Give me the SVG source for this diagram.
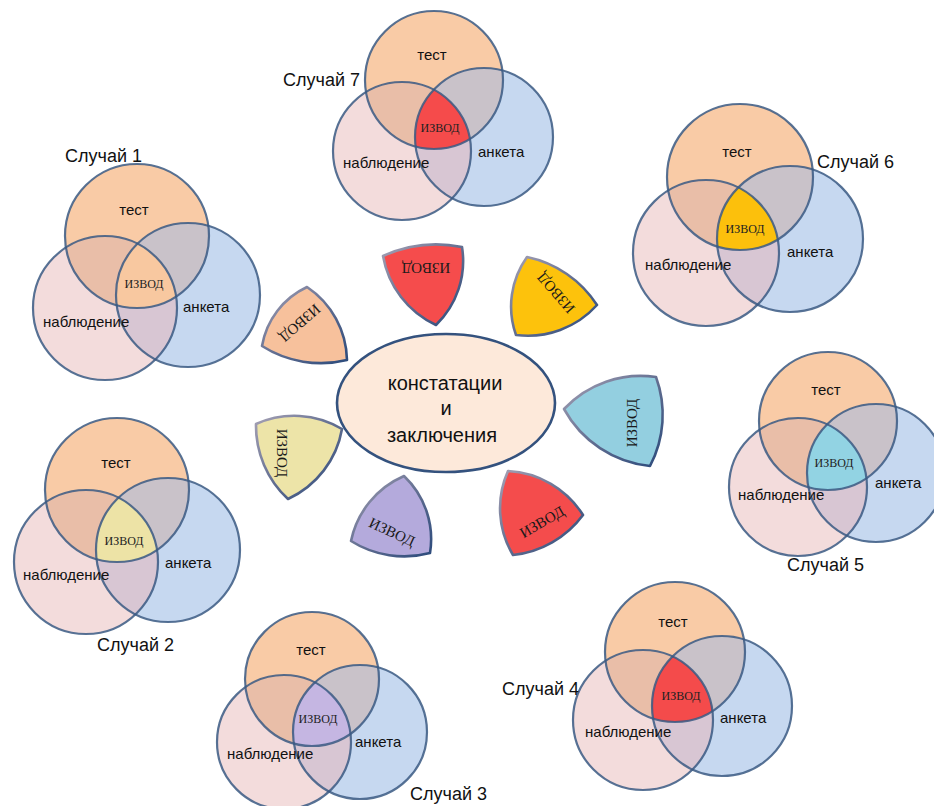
<svg xmlns="http://www.w3.org/2000/svg" width="934" height="806" viewBox="0 0 934 806">
  <style>
    .t { fill: #f9cba6; }
    .o { fill: #f3dcdc; }
    .a { fill: #c6d8f0; }
    .to { fill: #e9bea8; }
    .ta { fill: #c9c2c9; }
    .oa { fill: #d8c6d3; }
    .ln { fill: none; stroke: #3a5983; stroke-width: 2.2; stroke-opacity: 0.85; }
    .lbl { font-family: "Liberation Sans", Arial, sans-serif; font-size: 15px; fill: #111; }
    .mid { text-anchor: middle; }
    .case { font-family: "Liberation Sans", Arial, sans-serif; font-size: 18px; fill: #111; }
    .iz { font-family: "Liberation Serif", "Times New Roman", serif; font-size: 12px; fill: #222; text-anchor: middle; }
    .pz { font-family: "Liberation Serif", "Times New Roman", serif; font-size: 15px; fill: #1a1a1a; text-anchor: middle; }
    .petal { stroke: url(#rim); stroke-width: 2.6; stroke-linejoin: round; }
    .core { font-family: "Liberation Sans", Arial, sans-serif; font-size: 20px; fill: #111; text-anchor: middle; }
  </style>
  <defs>
    <linearGradient id="rim" x1="0" y1="0" x2="1" y2="1">
      <stop offset="0" stop-color="#a4a0b4"/>
      <stop offset="0.55" stop-color="#5c6a8e"/>
      <stop offset="1" stop-color="#2c4b7c"/>
    </linearGradient>
    <clipPath id="c1t"><circle cx="137" cy="236" r="72"/></clipPath>
    <clipPath id="c1o"><circle cx="105" cy="308" r="72"/></clipPath>
    <clipPath id="c2t"><circle cx="117" cy="490" r="72"/></clipPath>
    <clipPath id="c2o"><circle cx="86" cy="562" r="72"/></clipPath>
    <clipPath id="c3t"><circle cx="312" cy="679" r="67"/></clipPath>
    <clipPath id="c3o"><circle cx="284" cy="742" r="67"/></clipPath>
    <clipPath id="c4t"><circle cx="675" cy="652" r="70"/></clipPath>
    <clipPath id="c4o"><circle cx="643" cy="720" r="70"/></clipPath>
    <clipPath id="c5t"><circle cx="828" cy="421" r="69"/></clipPath>
    <clipPath id="c5o"><circle cx="798" cy="487" r="69"/></clipPath>
    <clipPath id="c6t"><circle cx="740" cy="177" r="73"/></clipPath>
    <clipPath id="c6o"><circle cx="706" cy="253" r="73"/></clipPath>
    <clipPath id="c7t"><circle cx="434" cy="80" r="69"/></clipPath>
    <clipPath id="c7o"><circle cx="402" cy="151" r="69"/></clipPath>
  </defs>

  <rect width="934" height="806" fill="#ffffff"/>

  <!-- Case 1 -->
  <g id="case1">
    <circle class="t" cx="137" cy="236" r="72"/>
    <circle class="o" cx="105" cy="308" r="72"/>
    <circle class="a" cx="188" cy="295" r="72"/>
    <circle class="to" cx="105" cy="308" r="72" clip-path="url(#c1t)"/>
    <circle class="ta" cx="188" cy="295" r="72" clip-path="url(#c1t)"/>
    <circle class="oa" cx="188" cy="295" r="72" clip-path="url(#c1o)"/>
    <g clip-path="url(#c1t)"><circle cx="188" cy="295" r="72" fill="#f8c8a0" clip-path="url(#c1o)"/></g>
    <circle class="ln" cx="137" cy="236" r="72"/>
    <circle class="ln" cx="105" cy="308" r="72"/>
    <circle class="ln" cx="188" cy="295" r="72"/>
    <text class="lbl mid" x="134" y="215">тест</text>
    <text class="iz" x="144" y="288">ИЗВОД</text>
    <text class="lbl" x="43" y="327">наблюдение</text>
    <text class="lbl" x="183" y="312">анкета</text>
    <text class="case" x="65" y="162">Случай 1</text>
  </g>

  <!-- Case 2 -->
  <g id="case2">
    <circle class="t" cx="117" cy="490" r="72"/>
    <circle class="o" cx="86" cy="562" r="72"/>
    <circle class="a" cx="168" cy="550" r="72"/>
    <circle class="to" cx="86" cy="562" r="72" clip-path="url(#c2t)"/>
    <circle class="ta" cx="168" cy="550" r="72" clip-path="url(#c2t)"/>
    <circle class="oa" cx="168" cy="550" r="72" clip-path="url(#c2o)"/>
    <g clip-path="url(#c2t)"><circle cx="168" cy="550" r="72" fill="#ede3a6" clip-path="url(#c2o)"/></g>
    <circle class="ln" cx="117" cy="490" r="72"/>
    <circle class="ln" cx="86" cy="562" r="72"/>
    <circle class="ln" cx="168" cy="550" r="72"/>
    <text class="lbl mid" x="116" y="468">тест</text>
    <text class="iz" x="124" y="545">ИЗВОД</text>
    <text class="lbl" x="23" y="580">наблюдение</text>
    <text class="lbl" x="165" y="568">анкета</text>
    <text class="case" x="97" y="651">Случай 2</text>
  </g>

  <!-- Case 3 -->
  <g id="case3">
    <circle class="t" cx="312" cy="679" r="67"/>
    <circle class="o" cx="284" cy="742" r="67"/>
    <circle class="a" cx="360" cy="732" r="67"/>
    <circle class="to" cx="284" cy="742" r="67" clip-path="url(#c3t)"/>
    <circle class="ta" cx="360" cy="732" r="67" clip-path="url(#c3t)"/>
    <circle class="oa" cx="360" cy="732" r="67" clip-path="url(#c3o)"/>
    <g clip-path="url(#c3t)"><circle cx="360" cy="732" r="67" fill="#c5b6e2" clip-path="url(#c3o)"/></g>
    <circle class="ln" cx="312" cy="679" r="67"/>
    <circle class="ln" cx="284" cy="742" r="67"/>
    <circle class="ln" cx="360" cy="732" r="67"/>
    <text class="lbl mid" x="311" y="655" font-size="14.5">тест</text>
    <text class="iz" x="318" y="723">ИЗВОД</text>
    <text class="lbl" x="227" y="759" font-size="14.5">наблюдение</text>
    <text class="lbl" x="355" y="747" font-size="14.5">анкета</text>
    <text class="case" x="410" y="800">Случай 3</text>
  </g>

  <!-- Case 4 -->
  <g id="case4">
    <circle class="t" cx="675" cy="652" r="70"/>
    <circle class="o" cx="643" cy="720" r="70"/>
    <circle class="a" cx="722" cy="706" r="70"/>
    <circle class="to" cx="643" cy="720" r="70" clip-path="url(#c4t)"/>
    <circle class="ta" cx="722" cy="706" r="70" clip-path="url(#c4t)"/>
    <circle class="oa" cx="722" cy="706" r="70" clip-path="url(#c4o)"/>
    <g clip-path="url(#c4t)"><circle cx="722" cy="706" r="70" fill="#f44b4b" clip-path="url(#c4o)"/></g>
    <circle class="ln" cx="675" cy="652" r="70"/>
    <circle class="ln" cx="643" cy="720" r="70"/>
    <circle class="ln" cx="722" cy="706" r="70"/>
    <text class="lbl mid" x="673" y="627">тест</text>
    <text class="iz" x="681" y="700">ИЗВОД</text>
    <text class="lbl" x="585" y="737">наблюдение</text>
    <text class="lbl" x="720" y="723">анкета</text>
    <text class="case" x="502" y="695">Случай 4</text>
  </g>

  <!-- Case 5 -->
  <g id="case5">
    <circle class="t" cx="828" cy="421" r="69"/>
    <circle class="o" cx="798" cy="487" r="69"/>
    <circle class="a" cx="876" cy="473" r="69"/>
    <circle class="to" cx="798" cy="487" r="69" clip-path="url(#c5t)"/>
    <circle class="ta" cx="876" cy="473" r="69" clip-path="url(#c5t)"/>
    <circle class="oa" cx="876" cy="473" r="69" clip-path="url(#c5o)"/>
    <g clip-path="url(#c5t)"><circle cx="876" cy="473" r="69" fill="#92d3e3" clip-path="url(#c5o)"/></g>
    <circle class="ln" cx="828" cy="421" r="69"/>
    <circle class="ln" cx="798" cy="487" r="69"/>
    <circle class="ln" cx="876" cy="473" r="69"/>
    <text class="lbl mid" x="826" y="395">тест</text>
    <text class="iz" x="834" y="467">ИЗВОД</text>
    <text class="lbl" x="738" y="500">наблюдение</text>
    <text class="lbl" x="875" y="488">анкета</text>
    <text class="case" x="787" y="571">Случай 5</text>
  </g>

  <!-- Case 6 -->
  <g id="case6">
    <circle class="t" cx="740" cy="177" r="73"/>
    <circle class="o" cx="706" cy="253" r="73"/>
    <circle class="a" cx="790" cy="239" r="73"/>
    <circle class="to" cx="706" cy="253" r="73" clip-path="url(#c6t)"/>
    <circle class="ta" cx="790" cy="239" r="73" clip-path="url(#c6t)"/>
    <circle class="oa" cx="790" cy="239" r="73" clip-path="url(#c6o)"/>
    <g clip-path="url(#c6t)"><circle cx="790" cy="239" r="73" fill="#fcc00c" clip-path="url(#c6o)"/></g>
    <circle class="ln" cx="740" cy="177" r="73"/>
    <circle class="ln" cx="706" cy="253" r="73"/>
    <circle class="ln" cx="790" cy="239" r="73"/>
    <text class="lbl mid" x="737" y="157">тест</text>
    <text class="iz" x="745" y="233">ИЗВОД</text>
    <text class="lbl" x="645" y="270">наблюдение</text>
    <text class="lbl" x="787" y="257">анкета</text>
    <text class="case" x="817" y="168">Случай 6</text>
  </g>

  <!-- Case 7 -->
  <g id="case7">
    <circle class="t" cx="434" cy="80" r="69"/>
    <circle class="o" cx="402" cy="151" r="69"/>
    <circle class="a" cx="484" cy="137" r="69"/>
    <circle class="to" cx="402" cy="151" r="69" clip-path="url(#c7t)"/>
    <circle class="ta" cx="484" cy="137" r="69" clip-path="url(#c7t)"/>
    <circle class="oa" cx="484" cy="137" r="69" clip-path="url(#c7o)"/>
    <g clip-path="url(#c7t)"><circle cx="484" cy="137" r="69" fill="#f54b4b" clip-path="url(#c7o)"/></g>
    <circle class="ln" cx="434" cy="80" r="69"/>
    <circle class="ln" cx="402" cy="151" r="69"/>
    <circle class="ln" cx="484" cy="137" r="69"/>
    <text class="lbl mid" x="432" y="60">тест</text>
    <text class="iz" x="440" y="132">ИЗВОД</text>
    <text class="lbl" x="343" y="168">наблюдение</text>
    <text class="lbl" x="478" y="157">анкета</text>
    <text class="case" x="283" y="86">Случай 7</text>
  </g>

  <!-- central statement -->
  <g id="core">
    <ellipse cx="446" cy="403" rx="109" ry="69" fill="#fde9da" stroke="#34527e" stroke-width="2.6"/>
    <text class="core" x="445" y="390">констатации</text>
    <text class="core" x="446" y="415">и</text>
    <text class="core" x="442" y="442">заключения</text>
  </g>

  <!-- petals around the centre, one per case -->
  <g id="petal1">
    <path class="petal" fill="#f7c19c" d="M307,287 A90,90 0 0 1 347,360 A110,110 0 0 1 262,346 A80,80 0 0 1 307,287 Z"/>
    <text class="pz" transform="translate(300,323) rotate(139)" y="5">ИЗВОД</text>
  </g>
  <g id="petal7">
    <path class="petal" fill="#f54c4c" d="M383,256 A130,130 0 0 1 462,247 A89,89 0 0 1 436,325 A94,94 0 0 1 383,256 Z"/>
    <text class="pz" transform="translate(426,268) rotate(180)" y="5">ИЗВОД</text>
  </g>
  <g id="petal6">
    <path class="petal" fill="#fdc20c" d="M527,257 A110,110 0 0 1 597,305 A93,93 0 0 1 516,335 A85,85 0 0 1 527,257 Z"/>
    <text class="pz" transform="translate(556,293) rotate(229)" y="5">ИЗВОД</text>
  </g>
  <g id="petal5">
    <path class="petal" fill="#93cfe0" d="M564,409 A105,105 0 0 1 656,377 A110,110 0 0 1 650,466 A111,111 0 0 1 564,409 Z"/>
    <text class="pz" transform="translate(632,423) rotate(-90)" y="5">ИЗВОД</text>
  </g>
  <g id="petal4">
    <path class="petal" fill="#f44c4c" d="M508,471 A94,94 0 0 1 583,515 A100,100 0 0 1 513,555 A91,91 0 0 1 508,471 Z"/>
    <text class="pz" transform="translate(542,522) rotate(-30)" y="5">ИЗВОД</text>
  </g>
  <g id="petal3">
    <path class="petal" fill="#b4aadc" d="M404,476 A87,87 0 0 1 430,553 A100,100 0 0 1 351,541 A91,91 0 0 1 404,476 Z"/>
    <text class="pz" transform="translate(392,532) rotate(25)" y="5">ИЗВОД</text>
  </g>
  <g id="petal2">
    <path class="petal" fill="#ede4a8" d="M256,424 A93,93 0 0 1 342,429 A95,95 0 0 1 288,499 A100,100 0 0 1 256,424 Z"/>
    <text class="pz" transform="translate(282,453) rotate(90)" y="5">ИЗВОД</text>
  </g>
</svg>
